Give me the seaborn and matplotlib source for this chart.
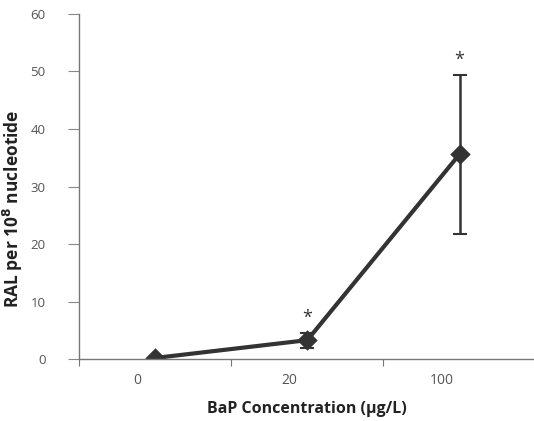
import matplotlib
matplotlib.use("Agg")
import matplotlib.pyplot as plt
import matplotlib.transforms as mtransforms
import seaborn as sns
import pandas as pd

categories = ["0", "20", "100"]
ral_values = [0.2, 3.3, 35.6]
ral_errors = [0.0, 1.3, 13.8]
significant = [False, True, True]
y_ticks = [0, 10, 20, 30, 40, 50, 60]

df = pd.DataFrame({"conc": categories, "ral": ral_values})

sns.set_style("white")
plt.rcParams["font.family"] = ["Open Sans", "DejaVu Sans"]

fig = plt.figure(figsize=(5.34, 4.21), dpi=100)
ax = fig.add_axes([0.148, 0.147, 0.855, 0.82])

line_color = "#333333"
sns.pointplot(data=df, x="conc", y="ral", order=categories, color=line_color,
              markers="D", markersize=8, linewidth=3, errorbar=None, ax=ax)

xpos = list(range(len(categories)))
ax.errorbar(xpos, ral_values, yerr=ral_errors, fmt="none", ecolor=line_color,
            elinewidth=1.8, capsize=5, capthick=1.5, zorder=1)

for xp, v, e, s in zip(xpos, ral_values, ral_errors, significant):
    if s:
        ax.text(xp, v + e + 2.6, "*", ha="center", va="center", fontsize=13,
                color="#333333")

ax.set_xlim(-0.5, 2.48)
ax.set_ylim(0, 60)
ax.set_yticks(y_ticks)
ax.set_yticklabels([str(t) for t in y_ticks], fontsize=9.5, color="#555555")
ax.set_xticks(xpos)
ax.set_xticklabels(categories, fontsize=10, color="#555555")
ax.set_xticks([-0.5, 0.5, 1.5, 2.5], minor=True)
ax.tick_params(axis="x", which="major", length=0, pad=10, bottom=True)
ax.tick_params(axis="x", which="minor", length=5, direction="out", color="#777777", width=0.8, bottom=True)
ax.tick_params(axis="y", which="major", length=8, direction="out", color="#888888", width=0.8, pad=16, left=True)

offset = mtransforms.ScaledTranslation(-18 / 100, 0, fig.dpi_scale_trans)
for lbl in ax.get_xticklabels():
    lbl.set_transform(lbl.get_transform() + offset)

for side in ["top", "right"]:
    ax.spines[side].set_visible(False)
for side in ["left", "bottom"]:
    ax.spines[side].set_color("#777777")
    ax.spines[side].set_linewidth(1.0)

ax.set_xlabel("BaP Concentration (μg/L)", fontsize=11.5, fontweight="bold", color="#222222", labelpad=9)
ax.set_ylabel("RAL per 10$^{\\mathbf{8}}$ nucleotide", fontsize=12.5, fontweight="bold", color="#222222")
ax.yaxis.set_label_coords(-0.118, 0.435)
ax.grid(False)

fig.savefig("out.png", dpi=100)
